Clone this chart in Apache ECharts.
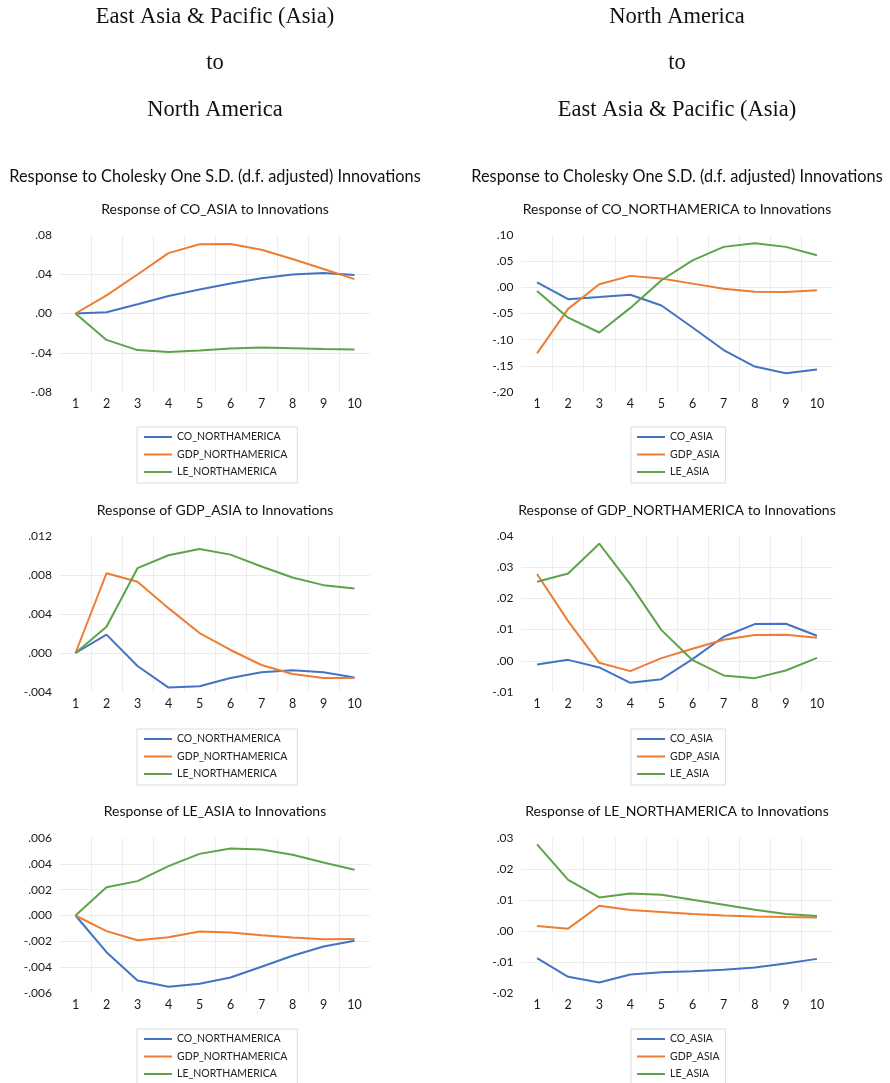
<!DOCTYPE html>
<html>
<head>
<meta charset="utf-8">
<script src="https://cdn.jsdelivr.net/npm/echarts@6/dist/echarts.min.js"></script>
<style>
html,body{margin:0;padding:0;background:#fff;}
#chart{width:890px;height:1083px;}
</style>
</head>
<body>
<div id="chart"></div>
<script>
// ---- data ----
const periods = ['1','2','3','4','5','6','7','8','9','10'];
const leftNames = ['CO_NORTHAMERICA','GDP_NORTHAMERICA','LE_NORTHAMERICA'];
const rightNames = ['CO_ASIA','GDP_ASIA','LE_ASIA'];

// Response of CO_ASIA
const coAsia_CO  = [0, 0.0013, 0.0094, 0.0178, 0.0245, 0.0306, 0.036, 0.0397, 0.0413, 0.0393];
const coAsia_GDP = [0, 0.0185, 0.0397, 0.0615, 0.0706, 0.0709, 0.0649, 0.0555, 0.0454, 0.035];
const coAsia_LE  = [0, -0.0269, -0.0373, -0.0393, -0.0376, -0.0356, -0.0346, -0.0353, -0.0363, -0.0366];

// Response of CO_NORTHAMERICA
const coNA_CO  = [0.0097, -0.0226, -0.0187, -0.0142, -0.0348, -0.0767, -0.1198, -0.1514, -0.1643, -0.1572];
const coNA_GDP = [-0.1263, -0.0412, 0.0058, 0.0219, 0.0168, 0.0071, -0.0026, -0.0084, -0.009, -0.0058];
const coNA_LE  = [-0.0071, -0.058, -0.0863, -0.0393, 0.0135, 0.0515, 0.0773, 0.0844, 0.0773, 0.0612];

// Response of GDP_ASIA
const gdpAsia_CO  = [0, 0.00188, -0.00133, -0.00355, -0.00341, -0.00256, -0.00198, -0.00177, -0.00198, -0.00252];
const gdpAsia_GDP = [0, 0.00818, 0.0073, 0.0046, 0.00205, 0.00031, -0.00123, -0.00215, -0.00256, -0.00256];
const gdpAsia_LE  = [0, 0.00269, 0.0087, 0.01003, 0.01067, 0.01009, 0.00887, 0.00774, 0.00696, 0.00662];

// Response of GDP_NORTHAMERICA
const gdpNA_CO  = [-0.00118, 0.0003, -0.00214, -0.00706, -0.00588, 0.00053, 0.0077, 0.01176, 0.01187, 0.00802];
const gdpNA_GDP = [0.0278, 0.01273, -0.00064, -0.00332, 0.00086, 0.00385, 0.00674, 0.00824, 0.00834, 0.00738];
const gdpNA_LE  = [0.02535, 0.028, 0.03754, 0.02449, 0.00984, 0.0002, -0.0047, -0.00556, -0.0031, 0.00096];

// Response of LE_ASIA
const leAsia_CO  = [0, -0.00284, -0.00503, -0.00552, -0.00529, -0.0048, -0.00397, -0.00312, -0.0024, -0.00196];
const leAsia_GDP = [0, -0.00121, -0.00191, -0.00168, -0.00124, -0.00132, -0.00152, -0.0017, -0.00183, -0.00181];
const leAsia_LE  = [0, 0.00219, 0.00266, 0.00382, 0.00477, 0.00519, 0.00511, 0.0047, 0.0041, 0.00354];

// Response of LE_NORTHAMERICA
const leNA_CO  = [-0.00878, -0.01478, -0.0166, -0.01403, -0.01328, -0.01296, -0.01253, -0.01178, -0.01049, -0.00899];
const leNA_GDP = [0.00161, 0.00075, 0.00814, 0.00675, 0.0061, 0.00546, 0.00503, 0.00471, 0.0045, 0.00439];
const leNA_LE  = [0.02794, 0.01649, 0.01081, 0.0121, 0.01167, 0.01006, 0.00846, 0.00685, 0.00546, 0.00482];

// axis ranges: [min, max, interval, decimals]
const axisRanges = [
  [-0.08, 0.08, 0.04, 2],
  [-0.20, 0.10, 0.05, 2],
  [-0.004, 0.012, 0.004, 3],
  [-0.01, 0.04, 0.01, 2],
  [-0.006, 0.006, 0.002, 3],
  [-0.02, 0.03, 0.01, 2]
];
const panelTitles = [
  'Response of CO_ASIA to Innovations',
  'Response of CO_NORTHAMERICA to Innovations',
  'Response of GDP_ASIA to Innovations',
  'Response of GDP_NORTHAMERICA to Innovations',
  'Response of LE_ASIA to Innovations',
  'Response of LE_NORTHAMERICA to Innovations'
];
const panelSeries = [
  [coAsia_CO, coAsia_GDP, coAsia_LE],
  [coNA_CO, coNA_GDP, coNA_LE],
  [gdpAsia_CO, gdpAsia_GDP, gdpAsia_LE],
  [gdpNA_CO, gdpNA_GDP, gdpNA_LE],
  [leAsia_CO, leAsia_GDP, leAsia_LE],
  [leNA_CO, leNA_GDP, leNA_LE]
];

// ---- layout ----
const colors = ['#4472C4', '#ED7D31', '#5EA34A'];
const sansFont = 'Lato, "Open Sans", sans-serif';
const serifFont = '"Liberation Serif", "DejaVu Serif", serif';
const colGeom = [{left: 60, width: 310, center: 215}, {left: 521.5, width: 311, center: 677}];
const rowGeom = [{top: 235, height: 157, title: 209, legend: 427}, {top: 536, height: 156, title: 510, legend: 729}, {top: 838, height: 155, title: 811, legend: 1029}];

function fmt(dec) {
  return function (v) {
    let s = Number(v).toFixed(dec);
    if (Math.abs(Number(s)) < 1e-12) s = (0).toFixed(dec);
    return s.replace(/^(-?)0\./, '$1.');
  };
}

const titles = [];
function addTitle(text, cx, cy, size, family) {
  titles.push({
    text: text, left: cx, top: cy - size / 2 - 1, textAlign: 'center',
    padding: 0,
    textStyle: {fontSize: size, fontFamily: family, fontWeight: 'normal', color: '#111', lineHeight: size + 2}
  });
}
// headings
addTitle('East Asia & Pacific (Asia)', 215, 17, 22.5, serifFont);
addTitle('to', 215, 63, 22.5, serifFont);
addTitle('North America', 215, 110, 22.5, serifFont);
addTitle('North America', 677, 17, 22.5, serifFont);
addTitle('to', 677, 63, 22.5, serifFont);
addTitle('East Asia & Pacific (Asia)', 677, 110, 22.5, serifFont);
addTitle('Response to Cholesky One S.D. (d.f. adjusted) Innovations', 215, 177, 16.3, sansFont);
addTitle('Response to Cholesky One S.D. (d.f. adjusted) Innovations', 677, 177, 16.3, sansFont);

const grids = [], xAxes = [], yAxes = [], series = [], legends = [];
for (let i = 0; i < 6; i++) {
  const c = colGeom[i % 2], r = rowGeom[Math.floor(i / 2)];
  addTitle(panelTitles[i], c.center, r.title, 14, sansFont);
  grids.push({left: c.left, width: c.width, top: r.top, height: r.height, containLabel: false});
  xAxes.push({
    type: 'category', gridIndex: i, data: periods, boundaryGap: true,
    axisLine: {show: false}, axisTick: {show: false},
    axisLabel: {fontFamily: sansFont, fontSize: 12.5, color: '#1a1a1a', margin: 5},
    splitLine: {show: true, showMinLine: false, showMaxLine: false, lineStyle: {color: '#ececec', width: 1}}
  });
  const ar = axisRanges[i];
  yAxes.push({
    type: 'value', gridIndex: i, min: ar[0], max: ar[1], interval: ar[2],
    axisLine: {show: false}, axisTick: {show: false},
    axisLabel: {fontFamily: sansFont, fontSize: 12, color: '#1a1a1a', margin: 8, formatter: fmt(ar[3])},
    splitLine: {show: true, showMinLine: false, showMaxLine: false, lineStyle: {color: '#ececec', width: 1}}
  });
  const names = (i % 2 === 0) ? leftNames : rightNames;
  for (let k = 0; k < 3; k++) {
    series.push({
      type: 'line', name: names[k], xAxisIndex: i, yAxisIndex: i,
      data: panelSeries[i][k], symbol: 'none', smooth: false,
      lineStyle: {width: 2, color: colors[k]}, itemStyle: {color: colors[k]},
      emphasis: {disabled: true}
    });
  }
  const isLeft = (i % 2 === 0);
  legends.push({
    data: names, orient: 'vertical',
    left: isLeft ? 137 : 631, top: r.legend,
    width: isLeft ? 156 : 92, height: 70,
    borderColor: '#dcdcdc', borderWidth: 1,
    padding: isLeft ? [3, 10, 4, 7] : [3, 6, 4, 6],
    itemGap: 3.5, itemWidth: 28, itemHeight: 2, icon: 'rect',
    textStyle: {fontFamily: sansFont, fontSize: 10.5, color: '#222', lineHeight: 14},
    selectedMode: false
  });
}

const chart = echarts.init(document.getElementById('chart'), null, {renderer: 'canvas'});
chart.setOption({
  backgroundColor: '#ffffff',
  animation: false,
  title: titles,
  grid: grids,
  xAxis: xAxes,
  yAxis: yAxes,
  legend: legends,
  series: series
});
</script>
</body>
</html>
